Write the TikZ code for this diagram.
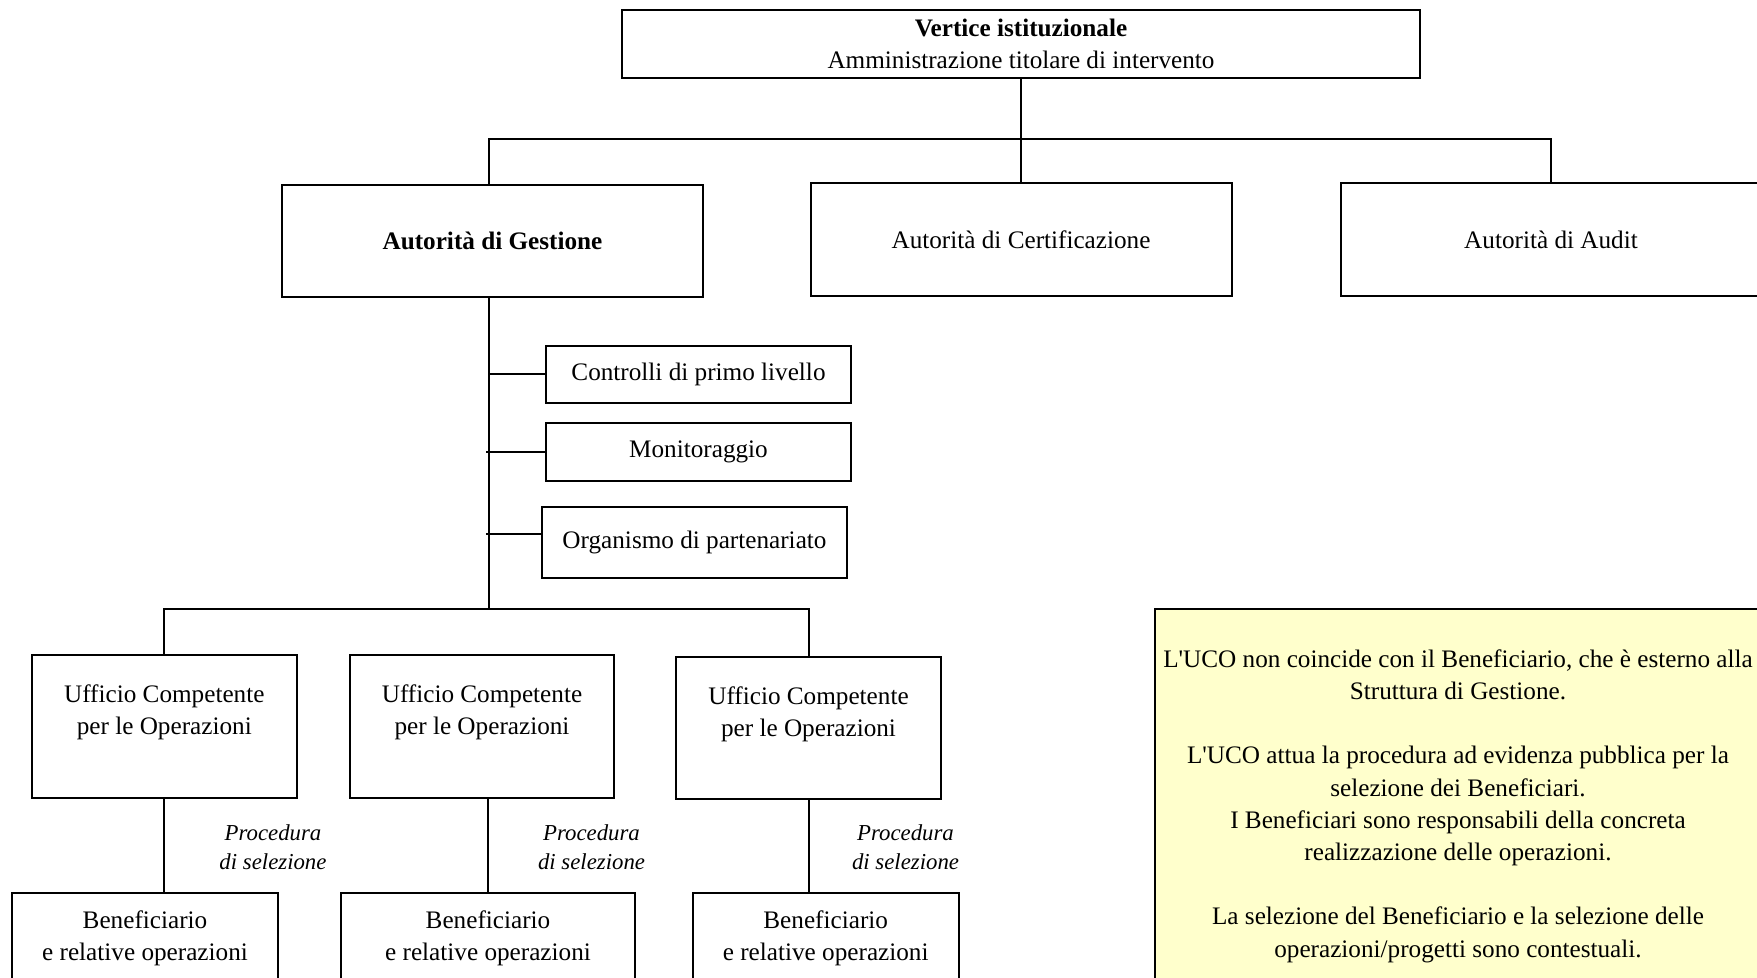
\documentclass[tikz,border=0pt]{standalone}
\usepackage{fontspec}
\setmainfont{Liberation Serif}
\definecolor{notefill}{HTML}{FFFFCC}
\begin{document}
\begin{tikzpicture}[x=0.5pt, y=-0.5pt,
  box/.style={draw, line width=1pt, inner sep=0pt, align=center,
    font=\fontsize{12.6}{16}\selectfont},
  txt/.style={inner sep=0pt, align=center, font=\fontsize{12.6}{16}\selectfont},
  proc/.style={inner sep=0pt, align=center, font=\fontsize{11.4}{14.5}\selectfont\itshape},
  link/.style={line width=1pt}]
\useasboundingbox (0,0) rectangle (1757,978);

% top level
\node[box, minimum width=399pt, minimum height=34pt] (vertice) at (1021,44)
  {\textbf{Vertice istituzionale}\\Amministrazione titolare di intervento};

% authorities
\node[box, minimum width=210.5pt, minimum height=56pt] (gest) at (492.5,241)
  {\textbf{Autorità di Gestione}};
\node[box, minimum width=210.5pt, minimum height=56.5pt] (cert) at (1021,239.5)
  {Autorità di Certificazione};
\node[box, minimum width=210.5pt, minimum height=56.5pt] (audit) at (1551,239.5)
  {Autorità di Audit};

% support functions of the managing authority
\node[box, minimum width=152.5pt, minimum height=28.5pt] (ctrl) at (698.5,374.5)
  {Controlli di primo livello};
\node[box, minimum width=152.5pt, minimum height=29pt] (moni) at (698.5,452)
  {Monitoraggio};
\node[box, minimum width=152.5pt, minimum height=35.5pt] (org) at (694.5,542.5)
  {Organismo di partenariato};

% operations offices
\node[box, minimum width=132.5pt, minimum height=71.5pt] (uco1) at (164.3,726.5) {};
\node[box, minimum width=132pt, minimum height=71.5pt] (uco2) at (482,726.5) {};
\node[box, minimum width=132.5pt, minimum height=71pt] (uco3) at (808.5,728) {};
\node[txt] (uco1t) at (164.3,712) {Ufficio Competente\\per le Operazioni};
\node[txt] (uco2t) at (482,712) {Ufficio Competente\\per le Operazioni};
\node[txt] (uco3t) at (808.5,714) {Ufficio Competente\\per le Operazioni};

% beneficiaries (boxes run past the lower edge)
\node[box, minimum width=133.3pt, minimum height=45.5pt] (ben1) at (145,938.5)
  {Beneficiario\\e relative operazioni};
\node[box, minimum width=146.8pt, minimum height=45.5pt] (ben2) at (488,938.5)
  {Beneficiario\\e relative operazioni};
\node[box, minimum width=132.8pt, minimum height=45.5pt] (ben3) at (825.7,938.5)
  {Beneficiario\\e relative operazioni};

% selection procedure labels
\node[proc] (p1) at (273,847) {Procedura\\di selezione};
\node[proc] (p2) at (591.5,847) {Procedura\\di selezione};
\node[proc] (p3) at (905.5,847) {Procedura\\di selezione};

% explanatory note
\node[box, fill=notefill, minimum width=303pt, minimum height=197pt,
      font=\fontsize{12.6}{16.1}\selectfont] (note) at (1458,806)
  {L\textquotesingle UCO non coincide con il Beneficiario, che è esterno alla\\
   Struttura di Gestione.\\[16.1pt]
   L\textquotesingle UCO attua la procedura ad evidenza pubblica per la\\
   selezione dei Beneficiari.\\
   I Beneficiari sono responsabili della concreta\\
   realizzazione delle operazioni.\\[16.1pt]
   La selezione del Beneficiario e la selezione delle\\
   operazioni/progetti sono contestuali.};

% junction points
\coordinate (barL) at (489,139);
\coordinate (barR) at (1551,139);
\coordinate (stem) at (489,609);
\coordinate (tapx) at (486,0);
\coordinate (orgtap) at (542,534);

% connectors: top level to authorities
\draw[link] (vertice.south) -- (cert.north);
\draw[link] (barL |- gest.north) -- (barL) -- (barR) -- (audit.north);

% managing authority stem and side branches
\draw[link] (barL |- gest.south) -- (stem);
\draw[link] (ctrl.west) -- (ctrl.west -| stem);
\draw[link] (moni.west) -- (moni.west -| tapx);
\draw[link] (orgtap) -- (orgtap -| tapx);

% stem to operations offices
\draw[link] (uco1.north) -- (uco1.north |- stem) -- (uco3.north |- stem) -- (uco3.north);

% offices to beneficiaries
\draw[link] (uco1.south) -- (uco1.south |- ben1.north);
\draw[link] (ben2.north |- uco2.south) -- (ben2.north);
\draw[link] (uco3.south) -- (uco3.south |- ben3.north);
\end{tikzpicture}
\end{document}
